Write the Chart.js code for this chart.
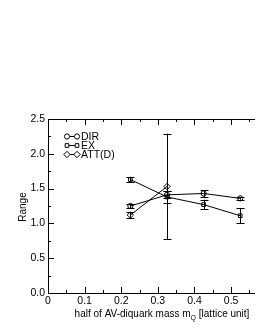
<!DOCTYPE html>
<html lang="en">
<head>
  <meta charset="UTF-8">
  <title>Range vs m_Q</title>
  <script src="https://cdn.jsdelivr.net/npm/chart.js"></script>
  <style>
    html, body { margin: 0; background: #fff; overflow: hidden; }
    .wrap { width: 277px; height: 330px; }
  </style>
</head>
<body>
  <div class="wrap"><canvas id="c"></canvas></div>
  <script>
    // data
    const dirX = [0.225, 0.325, 0.425, 0.525];
    const dirY = [1.25, 1.41, 1.43, 1.36];
    const dirErr = [0.03, 0.05, 0.05, 0.02];

    const exX = [0.225, 0.325, 0.425, 0.525];
    const exY = [1.63, 1.38, 1.27, 1.11];
    const exErr = [0.04, 0.09, 0.07, 0.11];

    const attX = [0.225, 0.325];
    const attY = [1.12, 1.53];
    const attErr = [0.04, 0.76];

    const xTicks = [0, 0.1, 0.2, 0.3, 0.4, 0.5, 0.6];
    const yTicks = [0, 0.5, 1.0, 1.5, 2.0, 2.5];

    const FONT = '"Liberation Sans", Arial, sans-serif';

    function pts(xs, ys, es) {
      return xs.map((x, i) => ({ x: x, y: ys[i], e: es[i] }));
    }

    function series(label, data, style, rad) {
      return {
        label: label,
        data: data,
        showLine: true,
        borderColor: '#000',
        borderWidth: 1,
        backgroundColor: '#fff',
        pointStyle: style,
        pointRadius: rad,
        pointBorderColor: '#000',
        pointBackgroundColor: 'rgba(255,255,255,0)',
        pointBorderWidth: 1
      };
    }

    // error bars, inward ticks, frame, titles, legend
    const extras = {
      id: 'extras',
      beforeDatasetsDraw(chart) {
        const ctx = chart.ctx;
        ctx.save();
        ctx.strokeStyle = '#000';
        ctx.lineWidth = 1;
        chart.data.datasets.forEach((ds, i) => {
          const meta = chart.getDatasetMeta(i);
          ds.data.forEach((p, j) => {
            const px = Math.round(meta.data[j].x) + 0.5;
            const y1 = chart.scales.y.getPixelForValue(p.y - p.e);
            const y2 = chart.scales.y.getPixelForValue(p.y + p.e);
            ctx.beginPath();
            ctx.moveTo(px, y1); ctx.lineTo(px, y2);
            ctx.moveTo(px - 4, Math.round(y1) + 0.5); ctx.lineTo(px + 4, Math.round(y1) + 0.5);
            ctx.moveTo(px - 4, Math.round(y2) + 0.5); ctx.lineTo(px + 4, Math.round(y2) + 0.5);
            ctx.stroke();
          });
        });
        ctx.restore();
      },
      afterDraw(chart) {
        const ctx = chart.ctx;
        const a = chart.chartArea;
        const xs = chart.scales.x, ys = chart.scales.y;
        ctx.save();
        ctx.strokeStyle = '#000';
        ctx.lineWidth = 1;
        // frame
        ctx.strokeRect(Math.round(a.left) + 0.5, Math.round(a.top) + 0.5,
          Math.round(a.right - a.left), Math.round(a.bottom - a.top));
        ctx.beginPath();
        for (let v = 0; v <= 0.6 + 1e-9; v += 0.05) {
          const px = Math.round(xs.getPixelForValue(v)) + 0.5;
          const major = Math.abs(v * 10 - Math.round(v * 10)) < 1e-6;
          const L = major ? 6 : 3;
          ctx.moveTo(px, a.bottom); ctx.lineTo(px, a.bottom - L);
          ctx.moveTo(px, a.top); ctx.lineTo(px, a.top + L);
        }
        for (let v = 0; v <= 2.5 + 1e-9; v += 0.25) {
          const py = Math.round(ys.getPixelForValue(v)) + 0.5;
          const major = Math.abs(v * 2 - Math.round(v * 2)) < 1e-6;
          const L = major ? 6 : 3;
          ctx.moveTo(a.left, py); ctx.lineTo(a.left + L, py);
          ctx.moveTo(a.right, py); ctx.lineTo(a.right - L, py);
        }
        ctx.stroke();

        // axis titles
        ctx.fillStyle = '#000';
        ctx.textBaseline = 'alphabetic';
        const t1 = 'half of AV-diquark mass m';
        const t2 = ' [lattice unit]';
        ctx.font = '10px ' + FONT;
        const w1 = ctx.measureText(t1).width;
        const w2 = ctx.measureText(t2).width;
        ctx.font = '7px ' + FONT;
        const ws = ctx.measureText('Q').width;
        const total = w1 + ws + w2;
        const x0 = 162 - total / 2;
        const yb = 317;
        ctx.font = '10px ' + FONT;
        ctx.textAlign = 'left';
        ctx.fillText(t1, x0, yb);
        ctx.font = '7px ' + FONT;
        ctx.fillText('Q', x0 + w1, yb + 3);
        ctx.font = '10px ' + FONT;
        ctx.fillText(t2, x0 + w1 + ws, yb);

        ctx.save();
        ctx.translate(26, 207);
        ctx.rotate(-Math.PI / 2);
        ctx.textAlign = 'center';
        ctx.fillText('Range', 0, 0);
        ctx.restore();

        // legend
        const rows = [
          { t: 'DIR', s: 'circle', y: 136 },
          { t: 'EX', s: 'rect', y: 145 },
          { t: 'ATT(D)', s: 'rectRot', y: 154 }
        ];
        rows.forEach(r => {
          ctx.beginPath();
          ctx.moveTo(67, r.y + 0.5); ctx.lineTo(77, r.y + 0.5);
          ctx.stroke();
          [67, 77].forEach(mx => {
            ctx.fillStyle = '#fff';
            Chart.helpers.drawPoint(ctx, {
              pointStyle: r.s, radius: r.s === 'rectRot' ? 3.2 : 2.6,
              borderWidth: 1
            }, mx, r.y + 0.5);
          });
          ctx.fillStyle = '#000';
          ctx.font = '10.5px ' + FONT;
          ctx.textAlign = 'left';
          ctx.textBaseline = 'middle';
          ctx.fillText(r.t, 81, r.y + 1);
        });
        ctx.restore();
      }
    };

    new Chart(document.getElementById('c'), {
      type: 'scatter',
      data: {
        datasets: [
          series('DIR', pts(dirX, dirY, dirErr), 'circle', 2.6),
          series('EX', pts(exX, exY, exErr), 'rect', 2.6),
          series('ATT(D)', pts(attX, attY, attErr), 'rectRot', 3.2)
        ]
      },
      options: {
        responsive: true,
        maintainAspectRatio: false,
        animation: false,
        layout: { padding: { top: 119, right: 0, left: 0, bottom: 0 } },
        plugins: { legend: { display: false }, tooltip: { enabled: false } },
        scales: {
          x: {
            type: 'linear', min: 0, max: 0.6,
            afterFit(s) { s.height = 37; },
            afterBuildTicks(s) { s.ticks = xTicks.map(v => ({ value: v })); },
            grid: { display: false, drawTicks: false },
            border: { display: false },
            ticks: {
              padding: 2, color: '#000', maxRotation: 0,
              font: { family: FONT, size: 10.5 },
              callback: v => v === 0 ? '0' : v.toFixed(1)
            }
          },
          y: {
            type: 'linear', min: 0, max: 2.5,
            afterFit(s) { s.width = 48; },
            afterBuildTicks(s) { s.ticks = yTicks.map(v => ({ value: v })); },
            grid: { display: false, drawTicks: false },
            border: { display: false },
            ticks: {
              padding: 3, color: '#000',
              font: { family: FONT, size: 10.5 },
              callback: v => v.toFixed(1)
            }
          }
        }
      },
      plugins: [extras]
    });
  </script>
</body>
</html>
